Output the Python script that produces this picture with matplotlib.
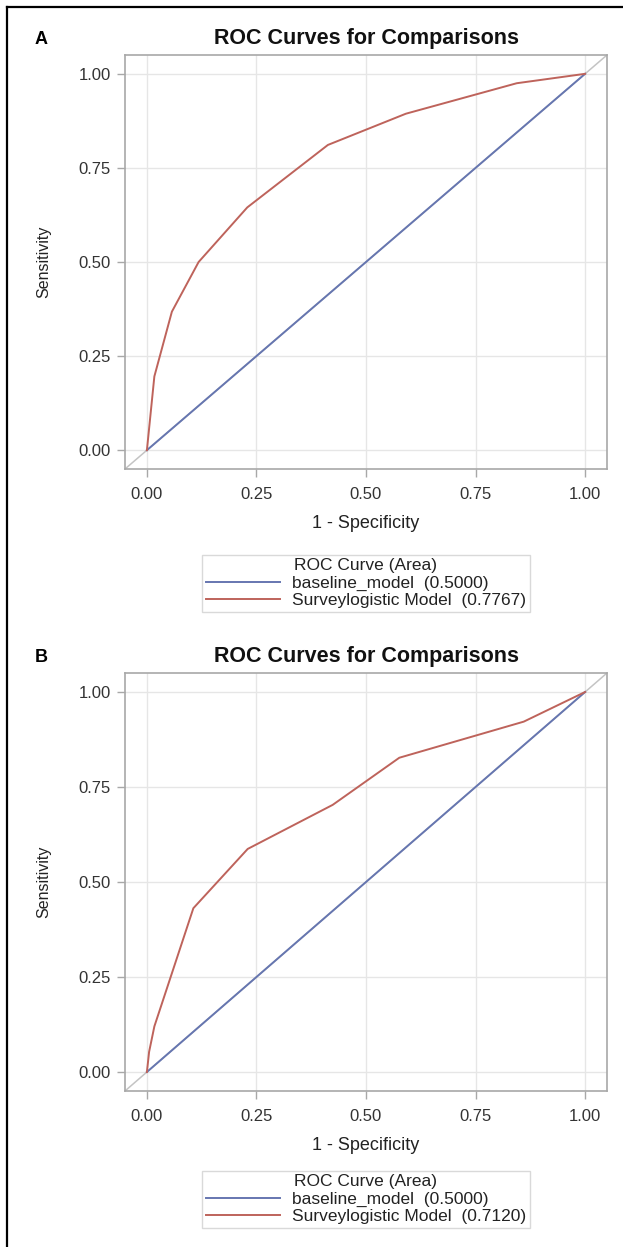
import numpy as np
import matplotlib
matplotlib.use('Agg')
import matplotlib.pyplot as plt
from matplotlib.lines import Line2D

plt.rcParams['font.family'] = ['Liberation Sans', 'DejaVu Sans']

# panel A
a_fpr = [0, 0.017, 0.057, 0.118, 0.229, 0.413, 0.591, 0.844, 1.0]
a_tpr = [0, 0.196, 0.368, 0.500, 0.645, 0.811, 0.894, 0.975, 1.0]
a_auc = '0.7767'
# panel B
b_fpr = [0, 0.005, 0.017, 0.106, 0.230, 0.424, 0.576, 0.860, 1.0]
b_tpr = [0, 0.053, 0.120, 0.431, 0.587, 0.703, 0.827, 0.922, 1.0]
b_auc = '0.7120'

base_fpr = [0, 1]
base_tpr = [0, 1]
base_auc = '0.5000'
ticks = [0, 0.25, 0.5, 0.75, 1.0]
tick_labels = ['0.00', '0.25', '0.50', '0.75', '1.00']

W, H = 623, 1247
fig = plt.figure(figsize=(W / 100, H / 100), dpi=100)

BLUE = '#6676B0'
RED = '#BE635B'
FRAME = '#A8A8A8'


def panel(top, bottom, fpr, tpr, auc, letter, leg_top):
    ax = fig.add_axes([125 / W, 1 - bottom / H, 482 / W, (bottom - top) / H])
    ax.plot([-0.05, 1.05], [-0.05, 1.05], color='#C4C4C4', lw=1.1, zorder=1)
    ax.plot(base_fpr, base_tpr, color=BLUE, lw=1.4, zorder=3,
            label='baseline_model  (%s)' % base_auc)
    ax.plot(fpr, tpr, color=RED, lw=1.4, zorder=3,
            label='Surveylogistic Model  (%s)' % auc)
    ax.set_xlim(-0.05, 1.05)
    ax.set_ylim(-0.05, 1.05)
    ax.set_xticks(ticks)
    ax.set_xticklabels(tick_labels)
    ax.set_yticks(ticks)
    ax.set_yticklabels(tick_labels)
    ax.grid(color='#E6E6E6', lw=1.0, zorder=0)
    ax.set_axisbelow(True)
    for s in ax.spines.values():
        s.set_color(FRAME)
        s.set_linewidth(1.2)
    ax.tick_params(colors=FRAME, labelcolor='#333333', labelsize=12,
                   length=6, width=1.0)
    ax.tick_params(axis='x', pad=7)
    ax.tick_params(axis='y', pad=4)
    ax.set_xlabel('1 - Specificity', fontsize=13, color='#222222', labelpad=9)
    ax.set_ylabel('Sensitivity', fontsize=11.5, color='#222222', labelpad=20)
    ax.set_title('ROC Curves for Comparisons', fontsize=15.5, fontweight='bold',
                 color='#111111', pad=8)
    fig.text(35 / W, 1 - (top - 15) / H, letter, fontsize=13, fontweight='bold',
             ha='left', va='center')
    leg = ax.legend(loc='upper center', bbox_to_anchor=(366 / W, 1 - leg_top / H),
                    bbox_transform=fig.transFigure, title='ROC Curve (Area)',
                    fontsize=12.5, title_fontsize=12.5, frameon=True, fancybox=False,
                    edgecolor='#D0D0D0', handlelength=4.3, handletextpad=0.7,
                    borderpad=0.2, labelspacing=0.12, borderaxespad=0)
    leg.get_frame().set_linewidth(1.0)
    leg.get_title().set_color('#222222')
    for t in leg.get_texts():
        t.set_color('#222222')
    return ax


panel(55, 469, a_fpr, a_tpr, a_auc, 'A', 555)
panel(673, 1091, b_fpr, b_tpr, b_auc, 'B', 1171)

# outer border (top and left edges)
fig.add_artist(Line2D([7 / W, 1], [1 - 7 / H, 1 - 7 / H], color='black', lw=1.6,
                      transform=fig.transFigure))
fig.add_artist(Line2D([7 / W, 7 / W], [0, 1 - 7 / H], color='black', lw=1.6,
                      transform=fig.transFigure))

fig.savefig('out.png', dpi=100)
